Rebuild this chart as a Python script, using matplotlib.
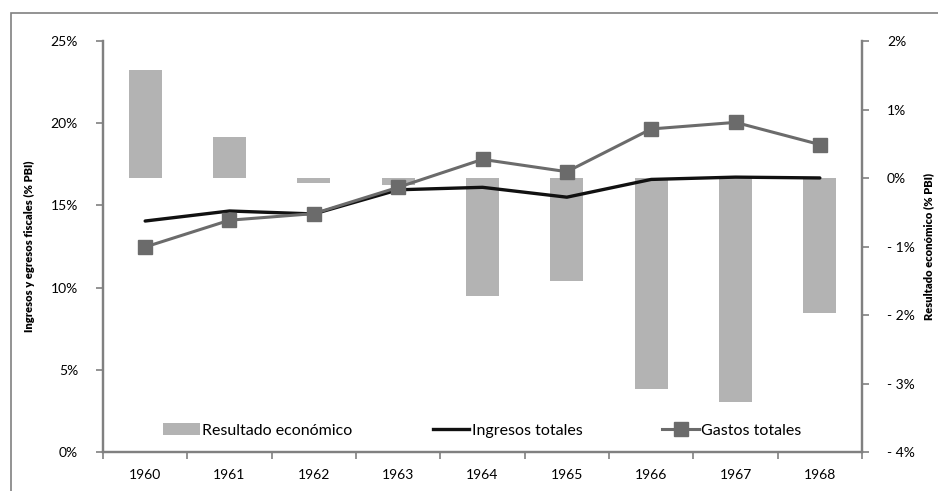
import matplotlib
matplotlib.use("Agg")
import matplotlib.pyplot as plt
from matplotlib.ticker import FuncFormatter, FixedLocator
from matplotlib.lines import Line2D
from matplotlib.patches import Patch, Rectangle

# datos
years = ["1960", "1961", "1962", "1963", "1964", "1965", "1966", "1967", "1968"]
resultado = [1.58, 0.60, -0.07, -0.10, -1.72, -1.51, -3.08, -3.27, -1.97]
ingresos = [14.05, 14.66, 14.48, 15.95, 16.10, 15.50, 16.58, 16.72, 16.67]
gastos = [12.47, 14.10, 14.50, 16.10, 17.80, 17.05, 19.65, 20.05, 18.70]

plt.rcParams['font.family'] = ['Lato', 'DejaVu Sans']

fig = plt.figure(figsize=(9.38, 4.91), dpi=100)
ax = fig.add_axes([0.1098, 0.0794, 0.8092, 0.8371])
ax2 = ax.twinx()
ax.set_zorder(ax2.get_zorder() + 1)
ax.patch.set_visible(False)

# marco exterior
fig.patches.append(Rectangle((11 / 938, -0.1), 1.2, 1.1 - 13 / 491, transform=fig.transFigure,
                             fill=False, edgecolor="#808080", linewidth=1.2))

x = list(range(len(years)))
bar_color = "#b3b3b3"
ax2.bar(x, resultado, width=0.39, color=bar_color)
ax.plot(x, ingresos, color="#111111", linewidth=2.4, solid_capstyle="round")
ax.plot(x, gastos, color="#6b6b6b", linewidth=2.2, marker="s", markersize=10,
        markerfacecolor="#6b6b6b", markeredgecolor="#6b6b6b")

ax.set_xlim(-0.5, len(years) - 0.5)
ax.set_ylim(0, 25)
ax2.set_ylim(-4, 2)
ax.set_yticks([0, 5, 10, 15, 20, 25])
ax2.set_yticks([-4, -3, -2, -1, 0, 1, 2])
ax.yaxis.set_major_formatter(FuncFormatter(lambda v, p: f"{v:.0f}%"))
ax2.yaxis.set_major_formatter(FuncFormatter(lambda v, p: f"- {abs(v):.0f}%" if v < 0 else f"{v:.0f}%"))

ax.set_xticks(x)
ax.set_xticklabels(years)
ax.xaxis.set_minor_locator(FixedLocator([i - 0.5 for i in range(len(years) + 1)]))
ax.tick_params(axis="x", which="major", length=0, pad=12, labelsize=10)
ax.tick_params(axis="x", which="minor", length=5, color="#808080", width=1.2, direction="out")
ax.tick_params(axis="y", length=5, color="#808080", width=1.2, labelsize=10, pad=13)
ax2.tick_params(axis="y", length=5, color="#808080", width=1.2, labelsize=10, pad=13)
ax2.tick_params(axis="x", length=0)

for a in (ax, ax2):
    a.spines["top"].set_visible(False)
    for s in ("left", "right", "bottom"):
        a.spines[s].set_color("#808080")
        a.spines[s].set_linewidth(1.6)

ax.set_ylabel("Ingresos y egresos fiscales (% PBI)", fontsize=8, fontweight="heavy", labelpad=11)
ax2.set_ylabel("Resultado económico (% PBI)", fontsize=8, fontweight="heavy", labelpad=6)

handles = [
    Patch(facecolor=bar_color, edgecolor="none"),
    Line2D([], [], color="#111111", linewidth=2.4),
    Line2D([], [], color="#6b6b6b", linewidth=2.2, marker="s", markersize=10),
]
ax.legend(handles, ["Resultado económico", "Ingresos totales", "Gastos totales"],
          loc="lower center", bbox_to_anchor=(0.5, 0.0), ncol=3, frameon=False,
          fontsize=11.5, handlelength=2.3, handletextpad=0.15, columnspacing=5.0)

fig.savefig("out.png", dpi=100)
